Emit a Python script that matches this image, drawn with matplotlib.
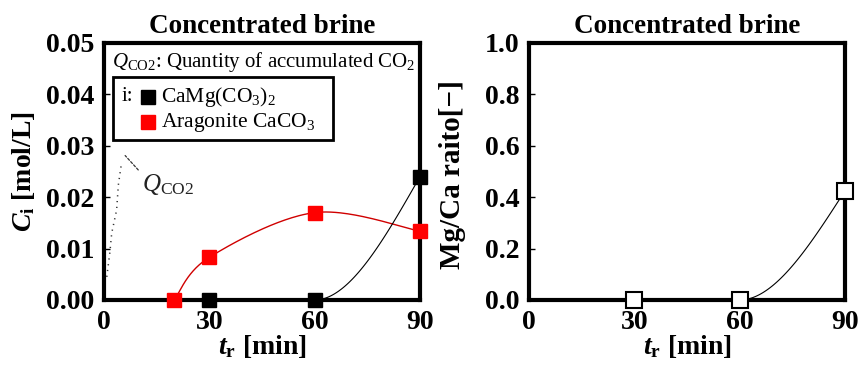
import numpy as np
import matplotlib
matplotlib.use("Agg")
import matplotlib.pyplot as plt
from matplotlib.patches import Rectangle
from matplotlib.lines import Line2D

plt.rcParams["font.family"] = ["Liberation Serif", "DejaVu Serif"]
plt.rcParams["mathtext.fontset"] = "custom"
plt.rcParams["mathtext.rm"] = "Liberation Serif"
plt.rcParams["mathtext.it"] = "Liberation Serif:italic"
plt.rcParams["mathtext.bf"] = "Liberation Serif:bold"
plt.rcParams["mathtext.bfit"] = "Liberation Serif:italic:bold"

# ---- data ----
t_dolomite = [30, 60, 90]
c_dolomite = [0.0, 0.0, 0.024]          # CaMg(CO3)2 [mol/L]
t_aragonite = [20, 30, 60, 90]
c_aragonite = [0.0, 0.0083, 0.017, 0.0134]  # aragonite CaCO3 [mol/L]
t_qco2 = [0.8, 1.7, 2.2, 3.6, 4.1, 4.9]
c_qco2 = [0.0045, 0.0094, 0.013, 0.0175, 0.0224, 0.0262]
t_ratio = [30, 60, 90]
mgca_ratio = [0.0, 0.0, 0.425]

xticks = [0, 30, 60, 90]
yticks_c = [0.00, 0.01, 0.02, 0.03, 0.04, 0.05]
yticks_r = [0.0, 0.2, 0.4, 0.6, 0.8, 1.0]
title = "Concentrated brine"


def smooth_bezier(x, y, n=50):
    """Smoothed line through points (cubic Bezier, spreadsheet style)."""
    p = np.column_stack([x, y]).astype(float)
    out = []
    for i in range(len(p) - 1):
        p0 = p[i - 1] if i > 0 else p[i]
        p1, p2 = p[i], p[i + 1]
        p3 = p[i + 2] if i + 2 < len(p) else p[i + 1]
        c1 = p1 + (p2 - p0) / 6
        c2 = p2 - (p3 - p1) / 6
        s = np.linspace(0, 1, n)[:, None]
        seg = ((1 - s) ** 3) * p1 + 3 * ((1 - s) ** 2) * s * c1 \
            + 3 * (1 - s) * s ** 2 * c2 + s ** 3 * p2
        out.append(seg if i == 0 else seg[1:])
    seg = np.vstack(out)
    return seg[:, 0], seg[:, 1]


def smooth_monotone(x, y, n=60):
    """Monotone cubic Hermite line through points."""
    x = np.asarray(x, float)
    y = np.asarray(y, float)
    h = np.diff(x)
    d = np.diff(y) / h
    m = np.zeros_like(x)
    for k in range(1, len(x) - 1):
        if d[k - 1] * d[k] > 0:
            w1 = 2 * h[k] + h[k - 1]
            w2 = h[k] + 2 * h[k - 1]
            m[k] = (w1 + w2) / (w1 / d[k - 1] + w2 / d[k])
    def end(h0, h1, d0, d1):
        v = ((2 * h0 + h1) * d0 - h0 * d1) / (h0 + h1)
        return 0.0 if np.sign(v) != np.sign(d0) else v
    m[0] = end(h[0], h[1], d[0], d[1])
    m[-1] = end(h[-1], h[-2], d[-1], d[-2])
    xs, ys = [], []
    for k in range(len(x) - 1):
        s = np.linspace(0, 1, n)
        h00 = 2 * s ** 3 - 3 * s ** 2 + 1
        h10 = s ** 3 - 2 * s ** 2 + s
        h01 = -2 * s ** 3 + 3 * s ** 2
        h11 = s ** 3 - s ** 2
        xs.append(x[k] + s * h[k])
        ys.append(h00 * y[k] + h10 * h[k] * m[k] + h01 * y[k + 1] + h11 * h[k] * m[k + 1])
    return np.concatenate(xs), np.concatenate(ys)


fig = plt.figure(figsize=(8.65, 3.69), dpi=100)
ax1 = fig.add_axes([0.1202, 0.187, 0.3653, 0.6965])
ax2 = fig.add_axes([0.6116, 0.187, 0.3653, 0.6965])

tick_font = dict(fontsize=20, fontweight="bold")

for ax in (ax1, ax2):
    for side in ("left", "right", "top", "bottom"):
        ax.spines[side].set_linewidth(3.0)
    ax.set_xlim(0, 90)
    ax.set_xticks(xticks)
    ax.set_xticklabels([str(v) for v in xticks], **tick_font)
    ax.tick_params(direction="in", length=4, width=1, pad=7,
                   top=False, right=False)
    ax.set_title(title, fontsize=19.5, fontweight="bold", pad=7)
    ax.set_xlabel(r"$\mathbfit{t}_{\mathbf{r}}$ [min]", fontsize=20,
                  fontweight="bold", labelpad=-1)

# ---- left panel: concentrations ----
ax1.set_ylim(0, 0.05)
ax1.set_yticks(yticks_c)
ax1.set_yticklabels([f"{v:.2f}" for v in yticks_c], **tick_font)
ax1.set_ylabel(r"$\mathbfit{C}_{\mathbf{i}}$ [mol/L]", fontsize=20,
               fontweight="bold")
ax1.yaxis.set_label_coords(-0.212, 0.5)

xr, yr = smooth_bezier(t_aragonite, c_aragonite)
ax1.plot(xr, yr, color="#d00000", lw=1.0, zorder=3, clip_on=False)
xd, yd = smooth_monotone(t_dolomite, c_dolomite)
ax1.plot(xd, yd, color="black", lw=0.8, zorder=3, clip_on=False)

ax1.plot(t_aragonite, c_aragonite, ls="none", marker="s", ms=10.5,
         mfc="#ff0000", mec="#ff0000", zorder=5, clip_on=False)
ax1.plot(t_dolomite, c_dolomite, ls="none", marker="s", ms=10.5,
         mfc="black", mec="black", zorder=6, clip_on=False)

# accumulated CO2 trace and its label
ax1.plot(t_qco2, c_qco2, ls=(0, (0.8, 3)), color="#333333", lw=1.1, zorder=2)
ax1.annotate("", xy=(5.5, 0.0285), xytext=(10.3, 0.0249),
             arrowprops=dict(arrowstyle="-", ls=(0, (2, 1.5)), lw=0.9,
                             color="#333333"))
ax1.text(10.7, 0.0212, r"$Q_{\mathrm{CO2}}$", fontsize=18, color="#222222",
         ha="left", va="baseline")
ax1.text(0.024, 0.905,
         r"$Q_{\mathrm{CO2}}$: Quantity of accumulated CO$_2$",
         transform=ax1.transAxes, fontsize=15, ha="left", va="baseline")

# legend box
ax1.add_patch(Rectangle((0.028, 0.623), 0.697, 0.245, transform=ax1.transAxes,
                        fill=False, lw=2, ec="black", zorder=7))
ax1.text(0.057, 0.790, "i:", transform=ax1.transAxes, fontsize=15,
         ha="left", va="center", zorder=8)
leg_items = [("black", r"CaMg(CO$_3$)$_2$", 0.790),
             ("#ff0000", r"Aragonite CaCO$_3$", 0.692)]
for col, lab, yy in leg_items:
    ax1.add_line(Line2D([0.140], [yy], transform=ax1.transAxes, ls="none",
                        marker="s", ms=10, mfc=col, mec=col, zorder=8))
    ax1.text(0.180, yy, lab, transform=ax1.transAxes, fontsize=15.5,
             ha="left", va="center", zorder=8)

# ---- right panel: Mg/Ca ratio ----
ax2.set_ylim(0, 1.0)
ax2.set_yticks(yticks_r)
ax2.set_yticklabels([f"{v:.1f}" for v in yticks_r], **tick_font)
ax2.set_ylabel("Mg/Ca raito[\u2212]", fontsize=21, fontweight="bold")
ax2.yaxis.set_label_coords(-0.198, 0.49)
xm, ym = smooth_monotone(t_ratio, mgca_ratio)
ax2.plot(xm, ym, color="black", lw=0.8, zorder=3, clip_on=False)
ax2.plot(t_ratio, mgca_ratio, ls="none", marker="s", ms=11,
         mfc="white", mec="black", mew=1.5, zorder=6, clip_on=False)

fig.savefig("out.png", dpi=100)
